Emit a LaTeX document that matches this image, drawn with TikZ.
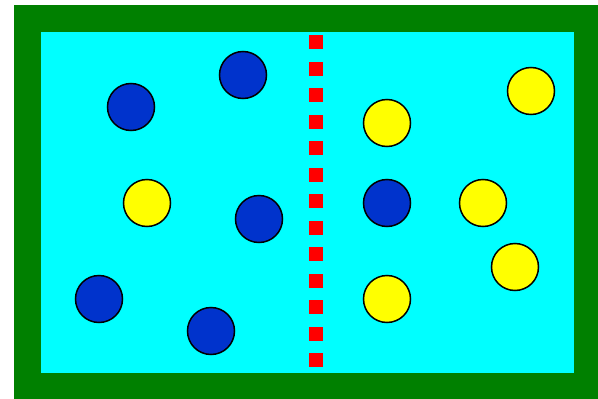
\documentclass[tikz,border=0pt]{standalone}
\usepackage{xcolor}
\usepackage{tikz}

\definecolor{fieldgreen}{RGB}{0,128,0}
\definecolor{fieldcyan}{RGB}{0,255,255}
\definecolor{ballblue}{RGB}{0,51,204}
\definecolor{ballyellow}{RGB}{255,255,0}
\definecolor{markred}{RGB}{255,0,0}

\begin{document}
\begin{tikzpicture}[
        x=1pt, y=-1pt,
        ball/.style={
            circle, draw=black, line width=1.5pt, minimum size=47pt, inner sep=0pt
        },
        blue ball/.style ={ball, fill=ballblue},
        yellow ball/.style ={ball, fill=ballyellow},
        mark box/.style={fill=markred, minimum size=14pt, inner sep=0pt}
    ]
        \useasboundingbox (0,0) rectangle (598,399);
        % field
        \fill[fieldgreen] (14,5) rectangle (598,399);
        \fill[fieldcyan] (41,32) rectangle (574,373);

        % middle line
        \foreach \i in {0,...,12}
            \node[mark box] (m\i) at (316,42+26.5*\i) {};

        % left side
        \node[blue ball]   (b1) at (131,107) {};
        \node[blue ball]   (b2) at (243,75)  {};
        \node[blue ball]   (b3) at (259,219) {};
        \node[blue ball]   (b4) at (99,299)  {};
        \node[blue ball]   (b5) at (211,331) {};
        \node[yellow ball] (y1) at (147,203) {};

        % right side
        \node[blue ball]   (b6) at (387,203) {};
        \node[yellow ball] (y2) at (387,123) {};
        \node[yellow ball] (y3) at (531,91)  {};
        \node[yellow ball] (y4) at (483,203) {};
        \node[yellow ball] (y5) at (515,267) {};
        \node[yellow ball] (y6) at (387,299) {};
    \end{tikzpicture}
\end{document}
